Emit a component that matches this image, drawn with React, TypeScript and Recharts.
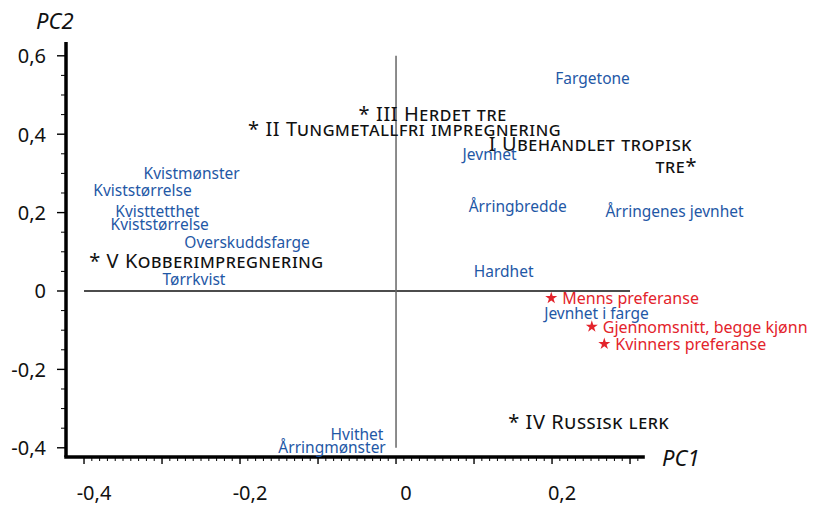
import React from "react";
import { ScatterChart, Scatter, XAxis, YAxis, ReferenceLine, Symbols } from "recharts";

// PCA loadings: sensory variables (blue)
const variables = [
  { name: "Fargetone", x: 0.252, y: 0.543 },
  { name: "Jevnhet", x: 0.12, y: 0.349 },
  { name: "Årringbredde", x: 0.156, y: 0.218 },
  { name: "Årringenes jevnhet", x: 0.357, y: 0.204 },
  { name: "Hardhet", x: 0.138, y: 0.051 },
  { name: "Jevnhet i farge", x: 0.257, y: -0.056 },
  { name: "Kvistmønster", x: -0.262, y: 0.302 },
  { name: "Kviststørrelse", x: -0.325, y: 0.258 },
  { name: "Kvisttetthet", x: -0.306, y: 0.203 },
  { name: "Kviststørrelse", x: -0.303, y: 0.172 },
  { name: "Overskuddsfarge", x: -0.191, y: 0.125 },
  { name: "Tørrkvist", x: -0.259, y: 0.031 },
  { name: "Hvithet", x: -0.05, y: -0.365 },
  { name: "Årringmønster", x: -0.082, y: -0.398 },
];

// preference points (red stars)
const preferences = [
  { name: "Menns preferanse", x: 0.199, y: -0.018 },
  { name: "Gjennomsnitt, begge kjønn", x: 0.251, y: -0.091 },
  { name: "Kvinners preferanse", x: 0.267, y: -0.135 },
];

// product groups (black)
const groups = [
  { name: "* III Herdet tre", x: 0.047, y: 0.454 },
  { name: "* II Tungmetallfri impregnering", x: 0.011, y: 0.415 },
  { name: "* IV Russisk lerk", x: 0.247, y: -0.333 },
  { name: "* V Kobberimpregnering", x: -0.243, y: 0.079 },
];

// right-aligned two-line group label
const tropicalGroup = [{ lines: ["I Ubehandlet tropisk", "tre*"], x: 0.3795, y: 0.376 }];

const xLabelTicks = [-0.4, -0.2, 0, 0.2];
const yLabelTicks = [-0.4, -0.2, 0, 0.2, 0.4, 0.6];

const X_MIN = -0.4231;
const X_MAX = 0.5179;
const X_AXIS_END = 0.3167;
const Y_MIN = -0.4235;
const Y_MAX = 0.6352;

const xTicks: number[] = [];
for (let i = -40; i <= 31; i++) xTicks.push(i / 100);
const yTicks: number[] = [];
for (let i = -8; i <= 12; i++) yTicks.push(i / 20);

const FONT = "'Noto Sans', sans-serif";
const BLUE = "#1f58a6";
const RED = "#e3232b";

const fmt = (v: number) => (Math.abs(v) < 1e-9 ? "0" : v.toFixed(1).replace(".", ","));
const hasLabel = (list: number[], v: number) => list.some((t) => Math.abs(t - v) < 1e-9);

const XTick = (props: any) => {
  const { x, y, payload } = props;
  const v = payload.value;
  const major = Math.round(v * 100) % 10 === 0;
  return (
    <g>
      <line x1={x} x2={x} y1={y} y2={y + (major ? 7 : 4)} stroke="#000" strokeWidth={major ? 1.4 : 1} />
      {hasLabel(xLabelTicks, v) && (
        <text x={x + 10} y={y + 35} textAnchor="middle" dominantBaseline="central" fontSize={20} fontFamily={FONT} fill="#111">
          {fmt(v)}
        </text>
      )}
    </g>
  );
};

const YTick = (props: any) => {
  const { x, y, payload } = props;
  const v = payload.value;
  const major = Math.round(v * 100) % 20 === 0;
  return (
    <g>
      <line x1={x - (major ? 9 : 5)} x2={x} y1={y} y2={y} stroke="#000" strokeWidth={major ? 1.4 : 1} />
      {hasLabel(yLabelTicks, v) && (
        <text x={x - 20} y={y} textAnchor="end" dominantBaseline="central" fontSize={20} fontFamily={FONT} fill="#111">
          {fmt(v)}
        </text>
      )}
    </g>
  );
};

const VariableLabel = (p: any) => (
  <text x={p.cx} y={p.cy} textAnchor="middle" dominantBaseline="central" fontSize={15.5} fontFamily={FONT} fill={BLUE}>
    {p.payload.name}
  </text>
);

const PreferenceLabel = (p: any) => (
  <g>
    <Symbols cx={p.cx} cy={p.cy} type="star" size={45} fill={RED} />
    <text x={p.cx + 11} y={p.cy} dominantBaseline="central" fontSize={16} fontFamily={FONT} fill={RED}>
      {p.payload.name}
    </text>
  </g>
);

const groupStyle = {
  fontVariant: "small-caps" as const,
  letterSpacing: "0.6px",
};

const GroupLabel = (p: any) => (
  <text x={p.cx} y={p.cy} textAnchor="middle" dominantBaseline="central" fontSize={20} fontFamily={FONT} fill="#111" style={groupStyle}>
    {p.payload.name}
  </text>
);

const TropicalLabel = (p: any) => (
  <text textAnchor="end" fontSize={20} fontFamily={FONT} fill="#111" style={groupStyle}>
    {p.payload.lines.map((l: string, i: number) => (
      <tspan key={i} x={p.cx + (i === 0 ? 0 : 5)} y={p.cy + i * 21.5} dominantBaseline="central">
        {l}
      </tspan>
    ))}
  </text>
);

export default function App() {
  return (
    <div style={{ position: "absolute", left: 0, top: 0, width: 816, height: 505, background: "#fff" }}>
      <ScatterChart width={816} height={505} margin={{ top: 42, right: 16, bottom: 0, left: 0 }}>
        <XAxis
          type="number"
          dataKey="x"
          domain={[X_MIN, X_MAX]}
          ticks={xTicks}
          interval={0}
          tick={<XTick />}
          tickLine={false}
          axisLine={false}
          tickSize={0}
          tickMargin={0}
          height={48}
        />
        <YAxis
          type="number"
          dataKey="y"
          domain={[Y_MIN, Y_MAX]}
          ticks={yTicks}
          interval={0}
          tick={<YTick />}
          tickLine={false}
          axisLine={{ stroke: "#000", strokeWidth: 3.5 }}
          tickSize={0}
          tickMargin={0}
          width={66}
        />
        <ReferenceLine
          segment={[{ x: X_MIN, y: Y_MIN }, { x: X_AXIS_END, y: Y_MIN }]}
          stroke="#000"
          strokeWidth={3.5}
          strokeLinecap="square"
          ifOverflow="visible"
        />
        <ReferenceLine segment={[{ x: -0.4, y: 0 }, { x: 0.3, y: 0 }]} stroke="#111" strokeWidth={1.5} ifOverflow="visible" />
        <ReferenceLine segment={[{ x: 0, y: -0.4 }, { x: 0, y: 0.6 }]} stroke="#666" strokeWidth={1.5} ifOverflow="visible" />
        <Scatter data={variables} shape={VariableLabel} isAnimationActive={false} />
        <Scatter data={preferences} shape={PreferenceLabel} isAnimationActive={false} />
        <Scatter data={groups} shape={GroupLabel} isAnimationActive={false} />
        <Scatter data={tropicalGroup} shape={TropicalLabel} isAnimationActive={false} />
      </ScatterChart>
      <div
        style={{
          position: "absolute",
          left: 36,
          top: 5,
          fontFamily: FONT,
          fontStyle: "italic",
          fontSize: 22,
          color: "#111",
        }}
      >
        PC2
      </div>
      <div
        style={{
          position: "absolute",
          left: 662,
          top: 442,
          fontFamily: FONT,
          fontStyle: "italic",
          fontSize: 22,
          color: "#111",
        }}
      >
        PC1
      </div>
    </div>
  );
}
